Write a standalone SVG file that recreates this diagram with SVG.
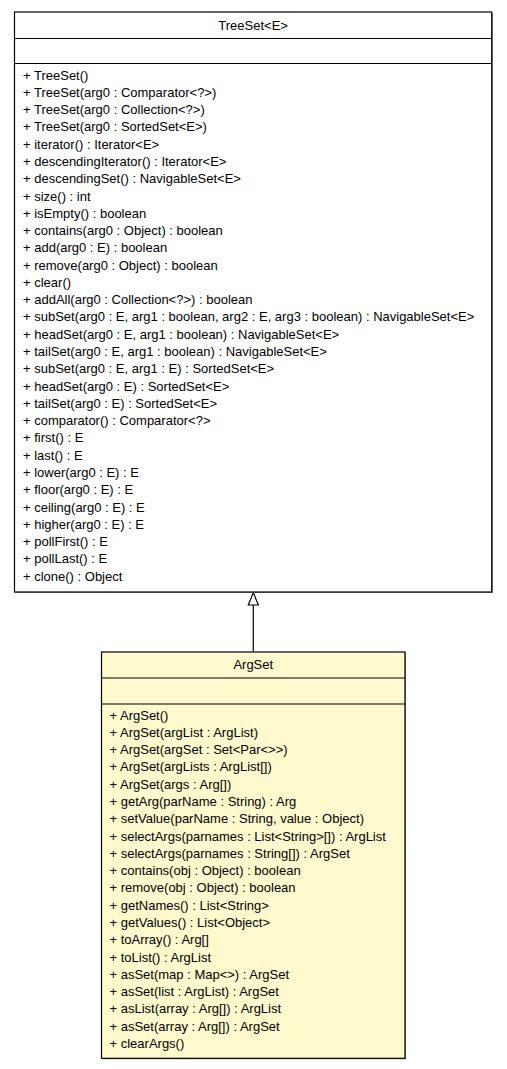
<svg xmlns="http://www.w3.org/2000/svg" width="507" height="1069" viewBox="0 0 507 1069">
<defs>
<style>
text{font-family:"Liberation Sans",Arial,Helvetica,sans-serif;font-size:13px;fill:#000}
.t{text-anchor:middle}
.box{stroke:#000;stroke-width:1.2}
.sh{fill:#888;stroke:none}
.sep{stroke:#000;stroke-width:1.2}
.edge{stroke:#000;stroke-width:1.2;fill:none}
</style>
<marker id="inh" viewBox="0 0 12 14" refX="6" refY="0.5" markerWidth="12" markerHeight="14" markerUnits="userSpaceOnUse" orient="auto-start-reverse">
<path d="M6,0.5 L11,13 L1,13 Z" fill="#fff" stroke="#000" stroke-width="1.2"/>
</marker>
</defs>
<rect width="507" height="1069" fill="#fff"/>
<g id="connectors">
<path class="edge" d="M253.3,651.5 L253.3,605"/>
<path d="M253.3,592.5 L258.3,605 L248.3,605 Z" fill="#fff" stroke="#000" stroke-width="1.2"/>
</g>
<g id="TreeSet">
<rect class="sh" x="15.5" y="13" width="477.5" height="580"/>
<rect class="box" x="14.5" y="12" width="477.2" height="580" fill="#fff"/>
<line class="sep" x1="14.5" y1="38.5" x2="491.7" y2="38.5"/>
<line class="sep" x1="14.5" y1="63.5" x2="491.7" y2="63.5"/>
<text class="t" x="253.1" y="29.5">TreeSet&lt;E&gt;</text>
<g>
<text x="23" y="79.5">+ TreeSet()</text>
<text x="23" y="96.8">+ TreeSet(arg0 : Comparator&lt;?&gt;)</text>
<text x="23" y="114.1">+ TreeSet(arg0 : Collection&lt;?&gt;)</text>
<text x="23" y="131.3">+ TreeSet(arg0 : SortedSet&lt;E&gt;)</text>
<text x="23" y="148.6">+ iterator() : Iterator&lt;E&gt;</text>
<text x="23" y="165.9">+ descendingIterator() : Iterator&lt;E&gt;</text>
<text x="23" y="183.2">+ descendingSet() : NavigableSet&lt;E&gt;</text>
<text x="23" y="200.5">+ size() : int</text>
<text x="23" y="217.7">+ isEmpty() : boolean</text>
<text x="23" y="235.0">+ contains(arg0 : Object) : boolean</text>
<text x="23" y="252.3">+ add(arg0 : E) : boolean</text>
<text x="23" y="269.6">+ remove(arg0 : Object) : boolean</text>
<text x="23" y="286.9">+ clear()</text>
<text x="23" y="304.1">+ addAll(arg0 : Collection&lt;?&gt;) : boolean</text>
<text x="23" y="321.4">+ subSet(arg0 : E, arg1 : boolean, arg2 : E, arg3 : boolean) : NavigableSet&lt;E&gt;</text>
<text x="23" y="338.7">+ headSet(arg0 : E, arg1 : boolean) : NavigableSet&lt;E&gt;</text>
<text x="23" y="356.0">+ tailSet(arg0 : E, arg1 : boolean) : NavigableSet&lt;E&gt;</text>
<text x="23" y="373.3">+ subSet(arg0 : E, arg1 : E) : SortedSet&lt;E&gt;</text>
<text x="23" y="390.5">+ headSet(arg0 : E) : SortedSet&lt;E&gt;</text>
<text x="23" y="407.8">+ tailSet(arg0 : E) : SortedSet&lt;E&gt;</text>
<text x="23" y="425.1">+ comparator() : Comparator&lt;?&gt;</text>
<text x="23" y="442.4">+ first() : E</text>
<text x="23" y="459.7">+ last() : E</text>
<text x="23" y="476.9">+ lower(arg0 : E) : E</text>
<text x="23" y="494.2">+ floor(arg0 : E) : E</text>
<text x="23" y="511.5">+ ceiling(arg0 : E) : E</text>
<text x="23" y="528.8">+ higher(arg0 : E) : E</text>
<text x="23" y="546.1">+ pollFirst() : E</text>
<text x="23" y="563.3">+ pollLast() : E</text>
<text x="23" y="580.6">+ clone() : Object</text>
</g>
</g>
<g id="ArgSet">
<rect class="sh" x="102.5" y="653" width="303.5" height="406.3"/>
<rect class="box" x="101.5" y="652" width="303.5" height="406.3" fill="#fffacd"/>
<line class="sep" x1="101.5" y1="678" x2="405" y2="678"/>
<line class="sep" x1="101.5" y1="704" x2="405" y2="704"/>
<text class="t" x="253.25" y="669">ArgSet</text>
<g>
<text x="109.5" y="719.5">+ ArgSet()</text>
<text x="109.5" y="736.8">+ ArgSet(argList : ArgList)</text>
<text x="109.5" y="754.1">+ ArgSet(argSet : Set&lt;Par&lt;&gt;&gt;)</text>
<text x="109.5" y="771.4">+ ArgSet(argLists : ArgList[])</text>
<text x="109.5" y="788.7">+ ArgSet(args : Arg[])</text>
<text x="109.5" y="805.9">+ getArg(parName : String) : Arg</text>
<text x="109.5" y="823.2">+ setValue(parName : String, value : Object)</text>
<text x="109.5" y="840.5">+ selectArgs(parnames : List&lt;String&gt;[]) : ArgList</text>
<text x="109.5" y="857.8">+ selectArgs(parnames : String[]) : ArgSet</text>
<text x="109.5" y="875.1">+ contains(obj : Object) : boolean</text>
<text x="109.5" y="892.4">+ remove(obj : Object) : boolean</text>
<text x="109.5" y="909.7">+ getNames() : List&lt;String&gt;</text>
<text x="109.5" y="926.9">+ getValues() : List&lt;Object&gt;</text>
<text x="109.5" y="944.2">+ toArray() : Arg[]</text>
<text x="109.5" y="961.5">+ toList() : ArgList</text>
<text x="109.5" y="978.8">+ asSet(map : Map&lt;&gt;) : ArgSet</text>
<text x="109.5" y="996.1">+ asSet(list : ArgList) : ArgSet</text>
<text x="109.5" y="1013.3">+ asList(array : Arg[]) : ArgList</text>
<text x="109.5" y="1030.6">+ asSet(array : Arg[]) : ArgSet</text>
<text x="109.5" y="1047.9">+ clearArgs()</text>
</g>
</g>
</svg>
